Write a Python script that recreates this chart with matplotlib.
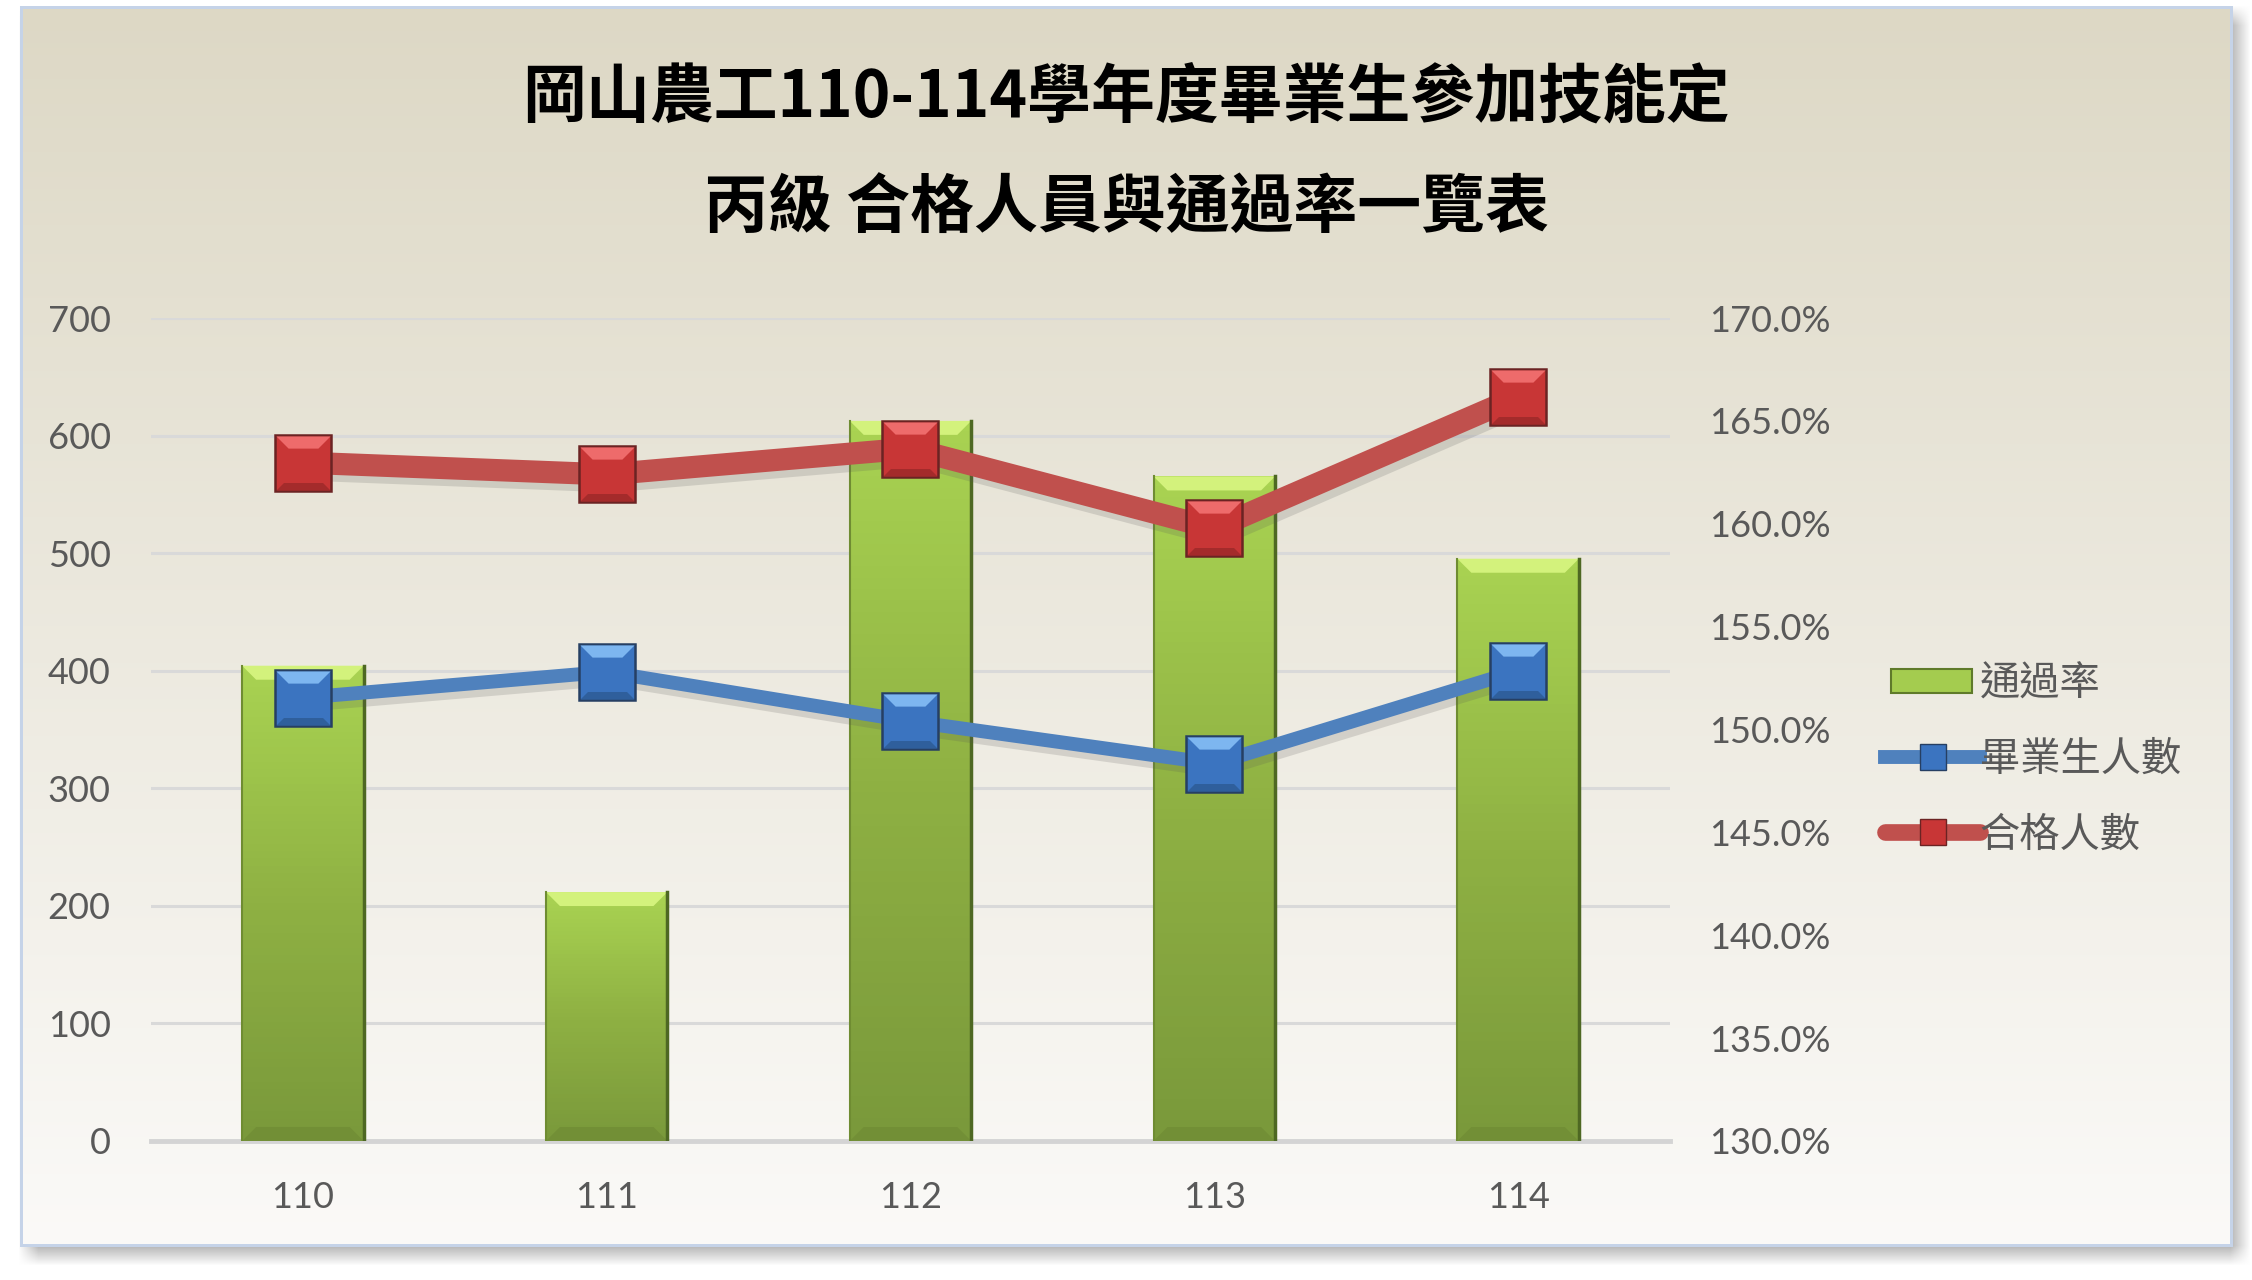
import numpy as np
import matplotlib.pyplot as plt
from matplotlib.patches import Polygon, Patch, Rectangle
from matplotlib.lines import Line2D
from matplotlib.path import Path
from matplotlib.ticker import FuncFormatter, MultipleLocator
from matplotlib.colors import LinearSegmentedColormap
from matplotlib.legend_handler import HandlerPatch
import matplotlib.patheffects as pe

years = ['110', '111', '112', '113', '114']
graduates = [377, 399, 357, 321, 400]      # 畢業生人數
passed = [577, 567, 589, 521, 633]         # 合格人數
pass_rate = [153.1, 142.1, 165.0, 162.3, 158.3]  # 通過率 (%)

title1 = '岡山農工110-114學年度畢業生參加技能定'
title2 = '丙級 合格人員與通過率一覽表'

W, H = 2252, 1280
fig = plt.figure(figsize=(W / 100, H / 100), dpi=100)

# ---- background: white page, soft shadow, gradient box, thin border ----
box_l, box_t, box_r, box_b = 20, 6, 2232, 1246
yy, xx = np.mgrid[0:H, 0:W]


def ramp(v, a, b):
    return np.clip((v - a) / (b - a), 0, 1)


bg = np.ones((H, W, 3))
ox, oy, s = 8, 9, 10
sh = (ramp(xx, box_l + ox - s, box_l + ox + s) * (1 - ramp(xx, box_r + ox - s, box_r + ox + s)) *
      ramp(yy, box_t + oy - s, box_t + oy + s) * (1 - ramp(yy, box_b + oy - s, box_b + oy + s)))
bg = bg * (1 - 0.45 * sh[..., None]) + 0.35 * 0.45 * sh[..., None]

top_c = np.array([221, 216, 197]) / 255
bot_c = np.array([251, 250, 248]) / 255
t = ramp(yy, box_t, box_b)[..., None]
grad = top_c * (1 - t) + bot_c * t
inside = (xx >= box_l) & (xx <= box_r) & (yy >= box_t) & (yy <= box_b)
bg[inside] = grad[inside]
border = inside & ~((xx >= box_l + 3) & (xx <= box_r - 3) & (yy >= box_t + 3) & (yy <= box_b - 3))
bg[border] = np.array([197, 211, 232]) / 255
fig.figimage(bg, 0, 0, origin='upper', zorder=-10)

# ---- axes ----
pl, pr, pt, pb = 151, 1670, 318, 1141
ax = fig.add_axes([pl / W, 1 - pb / H, (pr - pl) / W, (pb - pt) / H])
axb = ax.twinx()
axl = ax.twinx()
for a in (ax, axb, axl):
    a.patch.set_visible(False)
    for sp in a.spines.values():
        sp.set_visible(False)

x = np.arange(len(years))
tick_font = ['Lato', 'Noto Sans CJK TC', 'DejaVu Sans']
grey = '#595959'

ax.set_xlim(-0.5, len(years) - 0.5)
ax.set_ylim(0, 700)
ax.yaxis.set_major_locator(MultipleLocator(100))
ax.grid(axis='y', color='#d9d9d9', lw=2.2)
ax.spines['bottom'].set_visible(True)
ax.spines['bottom'].set_color('#d4d4d4')
ax.spines['bottom'].set_linewidth(3.5)
ax.set_xticks(x)
ax.set_xticklabels(years)
ax.tick_params(axis='both', length=0, labelsize=26, labelcolor=grey)
ax.tick_params(axis='y', pad=29)
ax.tick_params(axis='x', pad=29)
for lab in ax.get_xticklabels() + ax.get_yticklabels():
    lab.set_family(tick_font)

# bars on the secondary (percent) axis
axb.set_ylim(130, 170)
axb.yaxis.set_major_locator(MultipleLocator(5))
axb.yaxis.set_major_formatter(FuncFormatter(lambda v, p: f'{v:.1f}%'))
axb.tick_params(axis='y', length=0, labelsize=26, labelcolor=grey, pad=28)
for lab in axb.get_yticklabels():
    lab.set_family(tick_font)

bw = 0.4
bars = axb.bar(x, np.array(pass_rate) - 130, bw, bottom=130, color='#9bbb59',
               edgecolor='none', zorder=2)
grad_img = np.linspace(0, 1, 64)[:, None]
gcmap = LinearSegmentedColormap.from_list('g', ['#7a993b', '#8fb143', '#a9d352'])
px_per_cat = (pr - pl) / len(years)
px_per_pct = (pb - pt) / 40.0
bev_x = 14 / px_per_cat
bev_y = 14 / px_per_pct
for xi, b in zip(x, bars):
    top = b.get_y() + b.get_height()
    im = axb.imshow(grad_img, extent=(xi - bw / 2, xi + bw / 2, 130, top), origin='lower',
                    cmap=gcmap, aspect='auto', zorder=2.1)
    im.set_clip_path(b)
    axb.add_patch(Polygon([(xi - bw / 2, top), (xi + bw / 2, top),
                           (xi + bw / 2 - bev_x, top - bev_y), (xi - bw / 2 + bev_x, top - bev_y)],
                          closed=True, facecolor='#d3f27c', edgecolor='none', zorder=2.2))
    axb.add_patch(Polygon([(xi - bw / 2, 130), (xi + bw / 2, 130),
                           (xi + bw / 2 - bev_x, 130 + bev_y), (xi - bw / 2 + bev_x, 130 + bev_y)],
                          closed=True, facecolor='#728f36', edgecolor='none', zorder=2.2))
    axb.plot([xi + bw / 2, xi + bw / 2], [130, top], color='#4e6823', lw=2.5, zorder=2.3)
    axb.plot([xi - bw / 2, xi - bw / 2], [130, top], color='#6f8c32', lw=1.5, zorder=2.3)
axb.set_xlim(-0.5, len(years) - 0.5)

# lines on a third axis, on top of the bars
axl.set_ylim(0, 700)
axl.set_yticks([])
top_bev = Path([(-1, 1), (1, 1), (0.55, 0.55), (-0.55, 0.55), (-1, 1)])
bot_bev = Path([(-1, -1), (1, -1), (0.72, -0.72), (-0.72, -0.72), (-1, -1)])
series = [
    (graduates, '#4f81bd', 10, '#3b74c0', '#7db6f0', '#2f5f9c', '#263f63'),
    (passed, '#c0504d', 16, '#c83636', '#ee6b6b', '#a42b2b', '#6b2323'),
]
shadow = [pe.SimpleLineShadow(offset=(3, -5), alpha=0.18, shadow_color='#555555'), pe.Normal()]
for vals, lc, lw, face, light, dark, edge in series:
    axl.plot(x, vals, color=lc, lw=lw, solid_capstyle='butt', zorder=3, path_effects=shadow)
    axl.plot(x, vals, ls='none', marker='s', ms=41, mfc=face, mec=edge, mew=1.8, zorder=4)
    axl.plot(x, vals, ls='none', marker=top_bev, ms=39, mfc=light, mec='none', zorder=4.1)
    axl.plot(x, vals, ls='none', marker=bot_bev, ms=39, mfc=dark, mec='none', zorder=4.1)
axl.set_xlim(-0.5, len(years) - 0.5)

# ---- title ----
title_font = ['Noto Sans CJK TC', 'DejaVu Sans']
fig.text(0.5, 1 - 98 / H, title1, ha='center', va='center', fontsize=46,
         fontweight='bold', family=title_font, color='black')
fig.text(0.5, 1 - 208 / H, title2, ha='center', va='center', fontsize=46,
         fontweight='bold', family=title_font, color='black')


# ---- legend ----
def narrow_patch(legend, orig_handle, xdescent, ydescent, width, height, fontsize):
    return Rectangle((-xdescent + 4, -ydescent + height * 0.08), width - 10, height * 0.84)


handles = [
    Patch(facecolor='#a4cc4f', edgecolor='#5f7a2a', lw=1.5),
    Line2D([], [], color='#4f81bd', lw=10, marker='s', ms=19, mfc='#3b74c0', mec='#263f63'),
    Line2D([], [], color='#c0504d', lw=12, marker='s', ms=19, mfc='#c83636', mec='#6b2323',
           solid_capstyle='round'),
]
labels = ['通過率', '畢業生人數', '合格人數']
leg = fig.legend(handles, labels, loc='upper left', bbox_to_anchor=(1849 / W, 1 - 627 / H),
                 frameon=False, handlelength=2.35, handletextpad=0.0,
                 labelspacing=0.86, prop={'family': title_font, 'size': 29},
                 handler_map={Patch: HandlerPatch(patch_func=narrow_patch)})
for txt in leg.get_texts():
    txt.set_color(grey)

fig.savefig('out.png', dpi=100)
